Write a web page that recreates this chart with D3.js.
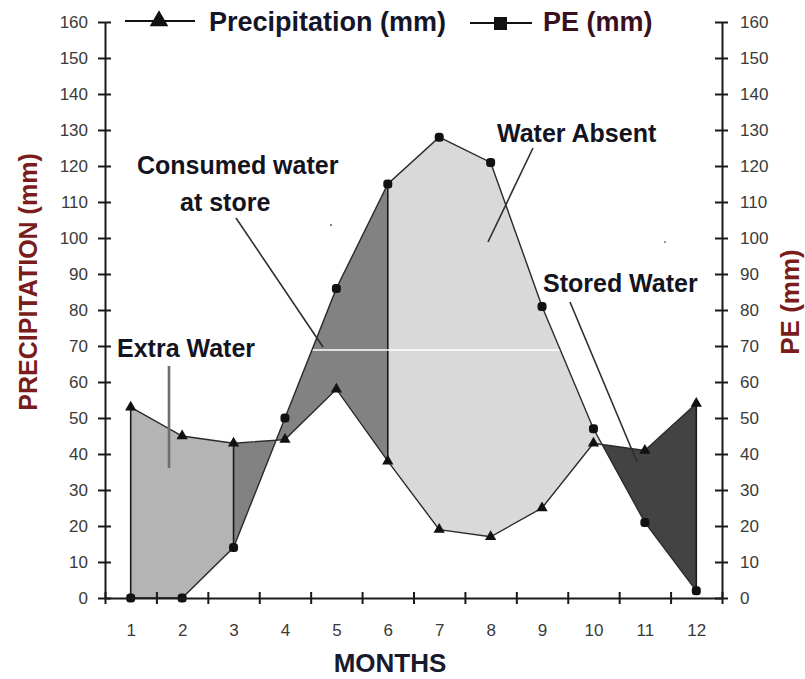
<!DOCTYPE html>
<html>
<head>
<meta charset="utf-8">
<script src="https://cdn.jsdelivr.net/npm/d3@7"></script>
<style>
  html, body { margin: 0; padding: 0; background: #ffffff; }
  svg { display: block; }
  text { font-family: "Liberation Sans", Arial, sans-serif; }
</style>
</head>
<body>
<script>
// ---- data ----
const months = [1, 2, 3, 4, 5, 6, 7, 8, 9, 10, 11, 12];
const precipitation = [53, 45, 43, 44, 58, 38, 19, 17, 25, 43, 41, 54];
const pe = [0, 0, 14, 50, 86, 115, 128, 121, 81, 47, 21, 2];
const yTicks = [0, 10, 20, 30, 40, 50, 60, 70, 80, 90, 100, 110, 120, 130, 140, 150, 160];
const seriesNames = ["Precipitation (mm)", "PE (mm)"];
const regionLabels = ["Extra Water", "Consumed water", "at store", "Water Absent", "Stored Water"];

const W = 805, H = 679;
const svg = d3.select("body").append("svg").attr("width", W).attr("height", H);

const x = d3.scaleLinear().domain([0.5, 12.5]).range([105, 722]);
const y = d3.scaleLinear().domain([0, 160]).range([598, 22]);

function interp(arr, t) {
  const i = Math.floor(t);
  if (i >= arr.length) return arr[arr.length - 1];
  const f = t - i;
  const a = arr[i - 1], b = arr[Math.min(i, arr.length - 1)];
  return a + (b - a) * f;
}
function crossing(lo, hi) {
  const d0 = precipitation[lo - 1] - pe[lo - 1];
  const d1 = precipitation[hi - 1] - pe[hi - 1];
  return lo + d0 / (d0 - d1);
}
function seg(a, b) {
  const ts = [a];
  for (let m = Math.floor(a) + 1; m < b; m++) if (m > a) ts.push(m);
  ts.push(b);
  return ts.map(t => ({ t, p: interp(precipitation, t), e: interp(pe, t) }));
}

const c2 = crossing(10, 11);
const area = d3.area().x(d => x(d.t)).y0(d => y(d.p)).y1(d => y(d.e));

const regions = [
  { a: 1, b: 3, fill: "#b4b4b4" },
  { a: 3, b: 6, fill: "#828282" },
  { a: 6, b: c2, fill: "#d9d9d9" },
  { a: c2, b: 12, fill: "#434343" }
];
svg.append("g").selectAll("path").data(regions).join("path")
  .attr("d", r => area(seg(r.a, r.b)))
  .attr("fill", r => r.fill)
  .attr("stroke", "none");

// vertical separators
const sepMonths = [1, 3, 6, 12];
svg.append("g").selectAll("line").data(sepMonths).join("line")
  .attr("x1", m => x(m)).attr("x2", m => x(m))
  .attr("y1", m => y(pe[m - 1])).attr("y2", m => y(precipitation[m - 1]))
  .attr("stroke", "#1a1a1a").attr("stroke-width", 1.6);

// white artifact line at 70
svg.append("line")
  .attr("x1", x(0.5) + 1).attr("x2", x(9.4))
  .attr("y1", y(70) + 4).attr("y2", y(70) + 4)
  .attr("stroke", "#ffffff").attr("stroke-width", 1.3);

// series lines
const line = d3.line().x((d, i) => x(months[i])).y(d => y(d));
svg.append("path").attr("d", line(precipitation))
  .attr("fill", "none").attr("stroke", "#2a2a2a").attr("stroke-width", 1.4);
svg.append("path").attr("d", line(pe))
  .attr("fill", "none").attr("stroke", "#2a2a2a").attr("stroke-width", 1.4);

// markers
const tri = d3.symbol().type(d3.symbolTriangle).size(55);
svg.append("g").selectAll("path").data(precipitation).join("path")
  .attr("d", tri)
  .attr("transform", (d, i) => `translate(${x(months[i])},${y(d)})`)
  .attr("fill", "#111");
svg.append("g").selectAll("rect").data(pe).join("rect")
  .attr("x", (d, i) => x(months[i]) - 4.5)
  .attr("y", d => y(d) - 4.5)
  .attr("width", 9).attr("height", 9).attr("rx", 3.5)
  .attr("fill", "#111");

// annotation leader lines
const ann = svg.append("g").attr("stroke", "#2e2e2e").attr("stroke-width", 1.6);
ann.append("line").attr("x1", 236).attr("y1", 218).attr("x2", 323).attr("y2", 347);
ann.append("line").attr("x1", 533).attr("y1", 148).attr("x2", 488).attr("y2", 242);
ann.append("line").attr("x1", 570).attr("y1", 302).attr("x2", 637).attr("y2", 462);
svg.append("line").attr("x1", 169).attr("y1", 366).attr("x2", 169).attr("y2", 468)
  .attr("stroke", "#6e6e6e").attr("stroke-width", 2.6);
svg.append("circle").attr("cx", 331).attr("cy", 225).attr("r", 1).attr("fill", "#555");
svg.append("circle").attr("cx", 665).attr("cy", 242).attr("r", 1).attr("fill", "#777");

// axes
const axisColor = "#1a1a1a";
const gL = svg.append("g").attr("transform", `translate(${x(0.5)},0)`)
  .call(d3.axisLeft(y).tickValues(yTicks).tickSize(7).tickPadding(10).tickSizeOuter(0));
gL.selectAll(".tick line").attr("x1", 6);
const gR = svg.append("g").attr("transform", `translate(${x(12.5)},0)`)
  .call(d3.axisRight(y).tickValues(yTicks).tickSize(6).tickPadding(12).tickSizeOuter(0));
gR.selectAll(".tick line").attr("x1", -7);
const gB = svg.append("g").attr("transform", `translate(0,${y(0)})`)
  .call(d3.axisBottom(x).tickValues(d3.range(0.5, 13, 1)).tickFormat("").tickSize(6).tickSizeOuter(0));
gB.selectAll(".tick line").attr("y1", -6);
const gM = svg.append("g").attr("transform", `translate(0,${y(0)})`)
  .call(d3.axisBottom(x).tickValues(months).tickSize(0).tickPadding(26));
gM.select(".domain").remove();

[gL, gR, gB].forEach(g => {
  g.select(".domain").attr("stroke", axisColor).attr("stroke-width", 2);
  g.selectAll(".tick line").attr("stroke", axisColor).attr("stroke-width", 2);
});
[gL, gR, gM].forEach(g => {
  g.selectAll(".tick text")
    .attr("font-size", 17).attr("fill", "#3a3a3a")
    .attr("font-family", "'Liberation Sans', Arial, sans-serif");
});

// axis titles
svg.append("text")
  .attr("transform", `translate(28,${282}) rotate(-90)`)
  .attr("text-anchor", "middle").attr("dominant-baseline", "central")
  .attr("font-size", 25).attr("font-weight", "bold").attr("fill", "#7a1c1c")
  .text("PRECIPITATION (mm)");
svg.append("text")
  .attr("transform", `translate(790,${302}) rotate(-90)`)
  .attr("text-anchor", "middle").attr("dominant-baseline", "central")
  .attr("font-size", 26).attr("font-weight", "bold").attr("fill", "#7a1c1c")
  .text("PE (mm)");
svg.append("text")
  .attr("x", 390).attr("y", 663)
  .attr("text-anchor", "middle").attr("dominant-baseline", "central")
  .attr("font-size", 26).attr("font-weight", "bold").attr("fill", "#1a1a2e")
  .text("MONTHS");

// legend
const lg = svg.append("g");
lg.append("line").attr("x1", 125).attr("x2", 195).attr("y1", 21).attr("y2", 21)
  .attr("stroke", "#111").attr("stroke-width", 2);
lg.append("path").attr("d", d3.symbol().type(d3.symbolTriangle).size(150))
  .attr("transform", "translate(159,21)").attr("fill", "#111");
lg.append("text").attr("x", 209).attr("y", 22).attr("dominant-baseline", "central")
  .attr("font-size", 27).attr("font-weight", "bold").attr("fill", "#15152a")
  .text(seriesNames[0]);
lg.append("line").attr("x1", 470).attr("x2", 532).attr("y1", 23).attr("y2", 23)
  .attr("stroke", "#111").attr("stroke-width", 2);
lg.append("rect").attr("x", 494).attr("y", 17).attr("width", 13).attr("height", 13)
  .attr("fill", "#111");
lg.append("text").attr("x", 543).attr("y", 22).attr("dominant-baseline", "central")
  .attr("font-size", 27).attr("font-weight", "bold").attr("fill", "#3a1020")
  .text(seriesNames[1]);

// region labels
const labelPos = [[117, 348], [137, 165], [180, 202], [497, 133], [543, 283]];
svg.append("g").selectAll("text").data(regionLabels).join("text")
  .attr("x", (d, i) => labelPos[i][0]).attr("y", (d, i) => labelPos[i][1])
  .attr("dominant-baseline", "central")
  .attr("font-size", 25).attr("font-weight", "bold").attr("fill", "#141420")
  .text(d => d);
</script>
</body>
</html>
